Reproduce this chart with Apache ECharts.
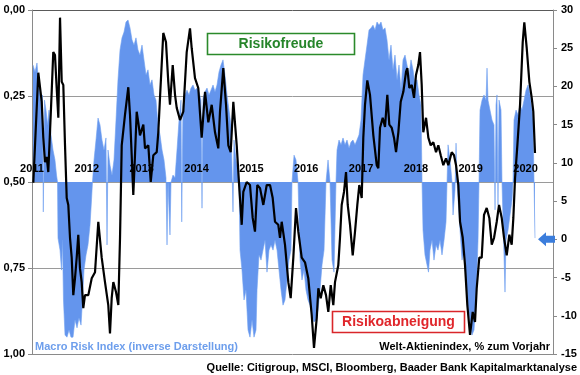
<!DOCTYPE html>
<html><head><meta charset="utf-8">
<script src="https://cdn.jsdelivr.net/npm/echarts@6.0.0/dist/echarts.min.js"></script>
<style>html,body{margin:0;padding:0;background:#fff}#c{width:580px;height:375px}</style>
</head><body><div id="c"></div>
<script>
// Macro Risk Index (inverse), left axis 0..1, dates in decimal years
const blueDates = [2011.018,2011.055,2011.091,2011.128,2011.164,2011.191,2011.206,2011.228,2011.255,2011.283,2011.310,2011.346,2011.383,2011.419,2011.447,2011.465,2011.474,2011.511,2011.538,2011.556,2011.574,2011.602,2011.638,2011.675,2011.711,2011.748,2011.784,2011.821,2011.857,2011.894,2011.921,2011.948,2011.985,2012.021,2012.058,2012.085,2012.103,2012.131,2012.167,2012.204,2012.240,2012.276,2012.313,2012.349,2012.368,2012.386,2012.422,2012.459,2012.495,2012.532,2012.568,2012.605,2012.641,2012.678,2012.714,2012.751,2012.787,2012.824,2012.860,2012.896,2012.933,2012.969,2013.006,2013.042,2013.079,2013.115,2013.152,2013.188,2013.225,2013.261,2013.298,2013.334,2013.371,2013.407,2013.443,2013.462,2013.480,2013.516,2013.535,2013.571,2013.608,2013.644,2013.681,2013.717,2013.730,2013.753,2013.790,2013.826,2013.863,2013.899,2013.936,2013.972,2014.009,2014.045,2014.082,2014.100,2014.118,2014.155,2014.191,2014.228,2014.264,2014.301,2014.337,2014.373,2014.410,2014.446,2014.483,2014.519,2014.556,2014.592,2014.629,2014.665,2014.683,2014.720,2014.756,2014.775,2014.793,2014.829,2014.866,2014.902,2014.939,2014.975,2015.012,2015.048,2015.085,2015.103,2015.139,2015.176,2015.212,2015.249,2015.285,2015.322,2015.358,2015.395,2015.431,2015.468,2015.504,2015.541,2015.577,2015.613,2015.650,2015.686,2015.723,2015.741,2015.778,2015.814,2015.851,2015.887,2015.923,2015.960,2015.996,2016.033,2016.069,2016.106,2016.142,2016.179,2016.215,2016.252,2016.288,2016.325,2016.361,2016.398,2016.434,2016.471,2016.507,2016.543,2016.562,2016.598,2016.635,2016.671,2016.708,2016.744,2016.781,2016.817,2016.853,2016.890,2016.926,2016.963,2016.999,2017.036,2017.072,2017.109,2017.145,2017.182,2017.218,2017.255,2017.291,2017.328,2017.364,2017.400,2017.437,2017.473,2017.510,2017.546,2017.583,2017.619,2017.656,2017.692,2017.729,2017.765,2017.802,2017.838,2017.875,2017.911,2017.948,2017.984,2018.020,2018.057,2018.093,2018.112,2018.130,2018.166,2018.203,2018.230,2018.257,2018.294,2018.330,2018.367,2018.403,2018.440,2018.476,2018.513,2018.549,2018.568,2018.586,2018.622,2018.659,2018.677,2018.713,2018.732,2018.750,2018.768,2018.805,2018.841,2018.878,2018.914,2018.950,2018.987,2019.023,2019.060,2019.096,2019.133,2019.151,2019.169,2019.206,2019.242,2019.279,2019.297,2019.315,2019.351,2019.388,2019.424,2019.443,2019.461,2019.479,2019.497,2019.516,2019.552,2019.570,2019.589,2019.625,2019.643,2019.680,2019.716,2019.753,2019.771,2019.789,2019.826,2019.862,2019.899,2019.935,2019.972,2020.008,2020.045,2020.081,2020.117,2020.136,2020.154,2020.172];
const blueValues = [0.160,0.180,0.154,0.227,0.262,0.247,0.587,0.262,0.291,0.334,0.291,0.363,0.407,0.436,0.480,0.500,0.663,0.698,0.756,0.669,0.843,0.945,0.951,0.930,0.951,0.951,0.901,0.924,0.895,0.916,0.843,0.756,0.712,0.683,0.625,0.552,0.500,0.436,0.378,0.314,0.334,0.378,0.407,0.372,0.683,0.407,0.451,0.480,0.436,0.320,0.203,0.116,0.081,0.064,0.035,0.029,0.052,0.087,0.102,0.081,0.116,0.131,0.102,0.145,0.189,0.174,0.218,0.203,0.247,0.262,0.334,0.363,0.407,0.436,0.488,0.683,0.500,0.654,0.500,0.480,0.488,0.407,0.320,0.262,0.616,0.276,0.247,0.233,0.247,0.227,0.218,0.233,0.227,0.238,0.262,0.576,0.256,0.238,0.227,0.247,0.233,0.218,0.238,0.218,0.180,0.160,0.145,0.189,0.247,0.291,0.334,0.587,0.378,0.436,0.465,0.500,0.698,0.756,0.843,0.814,0.930,0.951,0.901,0.951,0.930,0.814,0.712,0.727,0.698,0.669,0.762,0.698,0.683,0.698,0.669,0.698,0.756,0.814,0.858,0.843,0.785,0.727,0.698,0.500,0.422,0.436,0.500,0.727,0.785,0.756,0.814,0.843,0.858,0.887,0.907,0.901,0.872,0.814,0.741,0.698,0.500,0.436,0.500,0.727,0.762,0.500,0.407,0.378,0.392,0.372,0.392,0.378,0.401,0.384,0.378,0.392,0.378,0.363,0.320,0.189,0.145,0.102,0.058,0.052,0.044,0.058,0.035,0.044,0.035,0.058,0.052,0.087,0.145,0.102,0.174,0.131,0.203,0.160,0.233,0.145,0.131,0.160,0.189,0.145,0.174,0.218,0.203,0.247,0.276,0.500,0.640,0.712,0.741,0.762,0.698,0.669,0.727,0.683,0.698,0.669,0.712,0.669,0.616,0.500,0.392,0.436,0.500,0.596,0.523,0.387,0.500,0.500,0.640,0.727,0.698,0.785,0.858,0.901,0.945,0.930,0.843,0.669,0.500,0.291,0.262,0.247,0.262,0.169,0.262,0.291,0.320,0.334,0.581,0.276,0.247,0.567,0.262,0.291,0.500,0.610,0.820,0.669,0.640,0.596,0.552,0.500,0.320,0.291,0.305,0.276,0.291,0.262,0.233,0.218,0.247,0.291,0.320,0.500,0.663];

// Welt-Aktienindex, % zum Vorjahr (right axis)
const blackDates = [2011.024,2011.115,2011.177,2011.206,2011.237,2011.268,2011.297,2011.328,2011.359,2011.388,2011.419,2011.450,2011.480,2011.511,2011.542,2011.571,2011.602,2011.633,2011.662,2011.693,2011.724,2011.753,2011.784,2011.815,2011.844,2011.875,2011.906,2011.935,2011.966,2012.027,2012.089,2012.149,2012.209,2012.271,2012.331,2012.391,2012.422,2012.453,2012.483,2012.532,2012.574,2012.605,2012.636,2012.696,2012.756,2012.787,2012.818,2012.847,2012.878,2012.909,2012.938,2012.969,2013.030,2013.061,2013.121,2013.165,2013.212,2013.274,2013.303,2013.334,2013.394,2013.443,2013.485,2013.516,2013.566,2013.608,2013.639,2013.699,2013.759,2013.821,2013.881,2013.912,2013.972,2014.032,2014.094,2014.155,2014.215,2014.277,2014.337,2014.397,2014.428,2014.488,2014.538,2014.580,2014.623,2014.671,2014.733,2014.780,2014.824,2014.853,2014.915,2014.975,2015.024,2015.066,2015.108,2015.158,2015.218,2015.280,2015.340,2015.389,2015.431,2015.491,2015.522,2015.553,2015.613,2015.674,2015.717,2015.765,2015.814,2015.856,2015.918,2015.978,2016.038,2016.100,2016.142,2016.192,2016.221,2016.264,2016.312,2016.361,2016.403,2016.447,2016.494,2016.525,2016.585,2016.616,2016.647,2016.689,2016.726,2016.757,2016.799,2016.848,2016.890,2016.932,2016.968,2017.012,2017.041,2017.072,2017.114,2017.163,2017.224,2017.286,2017.315,2017.346,2017.395,2017.437,2017.479,2017.515,2017.559,2017.601,2017.638,2017.680,2017.723,2017.771,2017.820,2017.844,2017.880,2017.924,2017.966,2018.002,2018.044,2018.075,2018.106,2018.135,2018.185,2018.227,2018.270,2018.318,2018.367,2018.409,2018.453,2018.500,2018.549,2018.591,2018.653,2018.695,2018.732,2018.774,2018.805,2018.854,2018.896,2018.938,2018.987,2019.036,2019.078,2019.109,2019.156,2019.200,2019.242,2019.291,2019.339,2019.383,2019.425,2019.474,2019.516,2019.565,2019.607,2019.656,2019.704,2019.747,2019.777,2019.808,2019.850,2019.899,2019.948,2019.977,2020.021,2020.069,2020.112,2020.141,2020.172];
const blackValues = [7.4,21.8,18.0,13.3,10.1,10.8,8.8,14.0,19.3,24.5,24.1,19.8,15.9,29.0,20.6,20.2,12.3,5.4,4.5,0.2,-2.4,-7.3,-5.1,-2.4,0.6,-3.8,-5.6,-9.0,-7.3,-7.3,-5.1,-4.3,2.3,-2.4,-5.6,-8.6,-12.3,-7.7,-5.6,-6.9,-8.6,0.2,12.3,16.3,19.9,16.3,11.0,5.8,11.0,16.7,15.3,13.6,15.0,11.9,12.3,7.5,11.0,11.4,14.0,18.5,27.0,25.8,20.6,17.6,22.8,18.9,17.2,15.6,16.7,24.5,27.6,25.0,21.1,19.8,13.3,19.3,15.3,17.6,14.0,11.9,16.7,22.4,17.6,12.3,11.4,18.0,12.3,6.7,1.9,6.2,7.5,7.1,2.8,1.0,7.1,6.7,4.5,7.1,7.1,5.4,2.3,1.9,0.2,2.3,-0.7,-5.6,-7.7,-2.4,4.1,1.0,-2.4,-3.0,-5.1,-9.9,-14.2,-10.3,-6.4,-7.7,-6.0,-7.3,-9.5,-6.0,-8.6,-5.6,-3.4,0.2,4.5,6.2,8.8,4.5,1.9,-2.1,1.0,4.5,7.1,5.4,13.3,17.6,20.8,18.9,13.6,9.7,9.3,14.6,15.9,14.7,18.9,15.0,14.6,13.3,11.4,14.0,18.0,19.3,21.9,22.4,19.8,20.2,18.5,21.5,22.8,24.5,20.2,14.0,15.9,13.3,12.3,12.7,11.4,12.3,11.0,9.7,10.6,9.7,11.4,11.0,9.7,7.1,2.3,0.2,-3.4,-8.6,-12.5,-9.5,-10.8,-6.4,-2.4,-2.4,3.2,4.1,2.8,-0.7,0.2,2.3,4.5,2.8,0.2,-2.1,0.6,-0.7,2.8,8.0,12.3,17.6,25.8,28.4,25.0,20.6,18.5,16.7,11.3];

const xMin = 2011, xMax = 2020.5, xStep = 1;
const leftMin = 0, leftMax = 1, leftStep = 0.25, blueBase = 0.5;
const rightMin = -15, rightMax = 30, rightStep = 5;
const arrowValue = 0;

const FONT = "'Liberation Sans', Arial, sans-serif";
const chart = echarts.init(document.getElementById('c'), null, {renderer: 'canvas'});
const zip = (a, b) => a.map((d, i) => [d, b[i]]);

chart.setOption({
  animation: false,
  backgroundColor: '#fff',
  grid: {left: 32, right: 27, top: 10, bottom: 21, containLabel: false},
  xAxis: {
    type: 'value', min: xMin, max: xMax, interval: xStep, z: 2,
    position: 'bottom', offset: -193,
    axisLine: {show: false}, axisTick: {show: false}, splitLine: {show: false},
    axisLabel: {
      margin: 2, showMaxLabel: false, color: '#000', fontWeight: 'bold', fontSize: 11, fontFamily: FONT,
      formatter: v => Number.isInteger(v) ? String(v) : ''
    }
  },
  yAxis: [{
    type: 'value', min: leftMin, max: leftMax, interval: leftStep, inverse: true, position: 'left',
    axisLine: {show: true, lineStyle: {color: '#8a8a8a'}},
    axisTick: {show: true, length: 4, lineStyle: {color: '#8a8a8a'}},
    splitLine: {show: true, lineStyle: {color: ['#5a5a5a', '#9a9a9a', '#9a9a9a', '#9a9a9a', '#8a8a8a'], width: 1}},
    axisLabel: {margin: 7, color: '#000', fontWeight: 'bold', fontSize: 11, fontFamily: FONT,
      formatter: v => v.toFixed(2).replace('.', ',')}
  }, {
    type: 'value', min: rightMin, max: rightMax, interval: rightStep, position: 'right',
    axisLine: {show: true, lineStyle: {color: '#8a8a8a'}},
    axisTick: {show: true, length: 4, lineStyle: {color: '#8a8a8a'}},
    splitLine: {show: false},
    axisLabel: {margin: 8, color: '#000', fontWeight: 'bold', fontSize: 11, fontFamily: FONT}
  }],
  series: [{
    name: 'Macro Risk Index (inverse Darstellung)', type: 'line', yAxisIndex: 0,
    data: zip(blueDates, blueValues), symbol: 'none', z: 1,
    lineStyle: {width: 0.6, color: '#6f9ff0'},
    areaStyle: {color: '#6495ed', opacity: 1, origin: blueBase}
  }, {
    name: 'Welt-Aktienindex, % zum Vorjahr', type: 'line', yAxisIndex: 1,
    data: zip(blackDates, blackValues), symbol: 'none', z: 3,
    lineStyle: {width: 2.2, color: '#000'}
  }]
});

const ay = chart.convertToPixel({yAxisIndex: 1}, arrowValue);
chart.setOption({
  graphic: [
    {type: 'rect', z: 100, shape: {x: 207.5, y: 33.5, width: 147, height: 21},
      style: {fill: '#fff', stroke: '#2b8a2b', lineWidth: 1.6}},
    {type: 'text', z: 101, x: 281, y: 44.5,
      style: {text: 'Risikofreude', fill: '#26852a', font: 'bold 14px ' + FONT, textAlign: 'center', textVerticalAlign: 'middle'}},
    {type: 'rect', z: 100, shape: {x: 332.5, y: 311.5, width: 132, height: 21},
      style: {fill: '#fff', stroke: '#d9262a', lineWidth: 1.6}},
    {type: 'text', z: 101, x: 398.5, y: 322.5,
      style: {text: 'Risikoabneigung', fill: '#e0262b', font: 'bold 14px ' + FONT, textAlign: 'center', textVerticalAlign: 'middle'}},
    {type: 'text', z: 101, x: 35, y: 346.5,
      style: {text: 'Macro Risk Index (inverse Darstellung)', fill: '#6d9eec', font: 'bold 11px ' + FONT, textAlign: 'left', textVerticalAlign: 'middle'}},
    {type: 'text', z: 101, x: 550, y: 346.5,
      style: {text: 'Welt-Aktienindex, % zum Vorjahr', fill: '#000', font: 'bold 11px ' + FONT, textAlign: 'right', textVerticalAlign: 'middle'}},
    {type: 'text', z: 101, x: 577, y: 367.5,
      style: {text: 'Quelle: Citigroup, MSCI, Bloomberg, Baader Bank Kapitalmarktanalyse', fill: '#000', font: 'bold 11px ' + FONT, textAlign: 'right', textVerticalAlign: 'middle'}},
    {type: 'polygon', z: 101,
      shape: {points: [[538, ay], [546, ay - 7], [546, ay - 3.5], [555, ay - 3.5], [555, ay + 3.5], [546, ay + 3.5], [546, ay + 7]]},
      style: {fill: '#3b7ddc'}}
  ]
});
</script>
</body></html>
